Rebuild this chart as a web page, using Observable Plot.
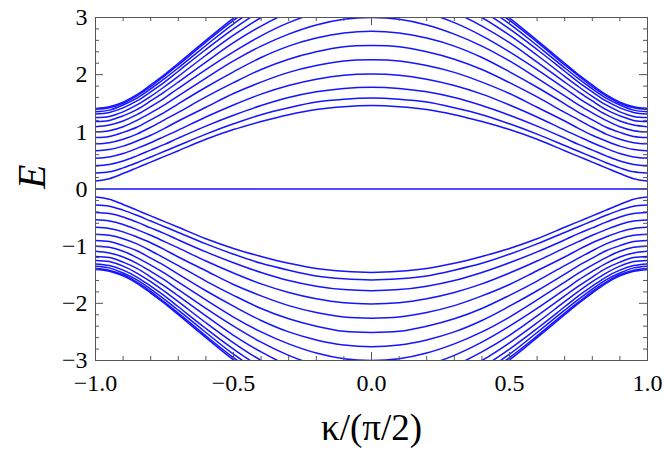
<!DOCTYPE html>
<html>
<head>
<meta charset="utf-8">
<script src="https://cdn.jsdelivr.net/npm/d3@7"></script>
<script src="https://cdn.jsdelivr.net/npm/@observablehq/plot@0.6"></script>
<style>
html, body { margin: 0; padding: 0; background: #fff; }
#chart { width: 664px; height: 449px; }
#chart svg, #chart svg text { font-family: "Liberation Serif", "DejaVu Serif", serif !important; }
</style>
</head>
<body>
<div id="chart"></div>
<script>
// κ/(π/2) sample positions (right half; the spectrum is symmetric in κ and E)
const kSamples = [0, 0.1, 0.2, 0.3, 0.4, 0.5, 0.6, 0.7, 0.75, 0.8, 0.85, 0.9, 0.95, 1.0];

// Upper bands E_n(κ) at kSamples (lowest band first)
const band1  = [1.46, 1.44, 1.39, 1.30, 1.18, 1.04, 0.87, 0.67, 0.57, 0.47, 0.37, 0.27, 0.18, 0.14];
const band2  = [1.59, 1.57, 1.52, 1.42, 1.30, 1.14, 0.96, 0.76, 0.66, 0.56, 0.46, 0.37, 0.30, 0.28];
const band3  = [1.78, 1.76, 1.70, 1.60, 1.46, 1.29, 1.10, 0.89, 0.78, 0.68, 0.58, 0.49, 0.43, 0.41];
const band4  = [2.01, 1.99, 1.92, 1.81, 1.66, 1.47, 1.26, 1.03, 0.92, 0.81, 0.71, 0.62, 0.56, 0.54];
const band5  = [2.26, 2.24, 2.16, 2.04, 1.87, 1.67, 1.43, 1.19, 1.06, 0.94, 0.84, 0.75, 0.69, 0.67];
const band6  = [2.51, 2.49, 2.40, 2.27, 2.09, 1.86, 1.61, 1.34, 1.21, 1.08, 0.96, 0.87, 0.81, 0.79];
const band7  = [2.76, 2.73, 2.64, 2.50, 2.30, 2.05, 1.78, 1.49, 1.34, 1.21, 1.08, 0.99, 0.92, 0.90];
const band8  = [3.00, 2.97, 2.87, 2.71, 2.50, 2.24, 1.94, 1.63, 1.47, 1.33, 1.20, 1.09, 1.02, 1.00];
const band9  = [3.22, 3.18, 3.08, 2.91, 2.68, 2.40, 2.09, 1.76, 1.59, 1.44, 1.30, 1.19, 1.12, 1.09];
const band10 = [3.42, 3.38, 3.27, 3.09, 2.85, 2.56, 2.22, 1.87, 1.70, 1.54, 1.39, 1.28, 1.20, 1.18];
const band11 = [3.59, 3.55, 3.44, 3.25, 3.00, 2.69, 2.34, 1.97, 1.79, 1.62, 1.47, 1.35, 1.27, 1.25];
const band12 = [3.73, 3.69, 3.58, 3.38, 3.12, 2.80, 2.44, 2.06, 1.87, 1.70, 1.54, 1.42, 1.34, 1.31];
const band13 = [3.85, 3.81, 3.69, 3.48, 3.21, 2.89, 2.51, 2.12, 1.93, 1.75, 1.59, 1.47, 1.38, 1.35];
const band14 = [3.93, 3.89, 3.76, 3.56, 3.28, 2.95, 2.57, 2.17, 1.98, 1.79, 1.63, 1.50, 1.42, 1.39];
const band15 = [3.98, 3.94, 3.81, 3.61, 3.33, 2.99, 2.60, 2.20, 2.00, 1.82, 1.65, 1.52, 1.44, 1.41];
const upperBands = [band1, band2, band3, band4, band5, band6, band7, band8,
                    band9, band10, band11, band12, band13, band14, band15];

// zero-energy flat band
const flatBandE = 0;
const flatBandK = [-1, 1];

// ticks
const xMajor = [-1, -0.5, 0, 0.5, 1];
const xMinor = [-0.9, -0.8, -0.7, -0.6, -0.4, -0.3, -0.2, -0.1, 0.1, 0.2, 0.3, 0.4, 0.6, 0.7, 0.8, 0.9];
const yMajor = [-3, -2, -1, 0, 1, 2, 3];
const yMinor = [-2.8, -2.6, -2.4, -2.2, -1.8, -1.6, -1.4, -1.2, -0.8, -0.6, -0.4, -0.2,
                0.2, 0.4, 0.6, 0.8, 1.2, 1.4, 1.6, 1.8, 2.2, 2.4, 2.6, 2.8];

const xLabel = "κ/(π/2)";
const yLabel = "E";

// Build rows: mirror in κ, and the lower branch is −E
const rows = [];
upperBands.forEach((vals, i) => {
  const pts = [];
  for (let j = vals.length - 1; j > 0; j--) pts.push({k: -kSamples[j], E: vals[j]});
  for (let j = 0; j < vals.length; j++) pts.push({k: kSamples[j], E: vals[j]});
  pts.forEach(p => {
    rows.push({band: "up" + i, k: p.k, E: p.E});
    rows.push({band: "dn" + i, k: p.k, E: -p.E});
  });
});
flatBandK.forEach(k => rows.push({band: "flat", k, E: flatBandE}));

const W = 664, H = 449;
const mL = 95, mR = 17, mT = 17, mB = 89;
const iW = W - mL - mR, iH = H - mT - mB;
const frameColor = "#555";
const majorLen = 8, minorLen = 4;
const fmtX = d => d3.format(".1f")(d);
const fmtY = d => d3.format("d")(d);

const chart = Plot.plot({
  width: W,
  height: H,
  marginLeft: mL,
  marginRight: mR,
  marginTop: mT,
  marginBottom: mB,
  x: {domain: [-1, 1]},
  y: {domain: [-3, 3]},
  style: {fontFamily: "Liberation Serif", fontSize: "24px", color: "#000", background: "#fff"},
  marks: [
    Plot.line(rows, {x: "k", y: "E", z: "band", stroke: "#1414ff", strokeWidth: 1.5, curve: "catmull-rom", clip: true}),
    Plot.frame({stroke: frameColor, strokeWidth: 1}),
    // inward ticks on all four sides
    Plot.tickX(xMajor, {x: d => d, insetTop: iH - majorLen, stroke: frameColor}),
    Plot.tickX(xMajor, {x: d => d, insetBottom: iH - majorLen, stroke: frameColor}),
    Plot.tickX(xMinor, {x: d => d, insetTop: iH - minorLen, stroke: frameColor}),
    Plot.tickX(xMinor, {x: d => d, insetBottom: iH - minorLen, stroke: frameColor}),
    Plot.tickY(yMajor, {y: d => d, insetRight: iW - majorLen, stroke: frameColor}),
    Plot.tickY(yMajor, {y: d => d, insetLeft: iW - majorLen, stroke: frameColor}),
    Plot.tickY(yMinor, {y: d => d, insetRight: iW - minorLen, stroke: frameColor}),
    Plot.tickY(yMinor, {y: d => d, insetLeft: iW - minorLen, stroke: frameColor}),
    Plot.axisX(xMajor, {tickSize: 0, tickPadding: 13, tickFormat: fmtX, label: null, fontSize: 24}),
    Plot.axisY(yMajor, {tickSize: 0, tickPadding: 8, tickFormat: fmtY, label: null, fontSize: 24}),
    Plot.text([xLabel], {frameAnchor: "bottom", lineAnchor: "bottom", dy: 79, fontSize: 37, fill: "#000"}),
    Plot.text([yLabel], {frameAnchor: "left", dx: -63, rotate: -90, fontSize: 40, fontStyle: "italic", fill: "#000"})
  ]
});
document.getElementById("chart").appendChild(chart);
</script>
</body>
</html>
